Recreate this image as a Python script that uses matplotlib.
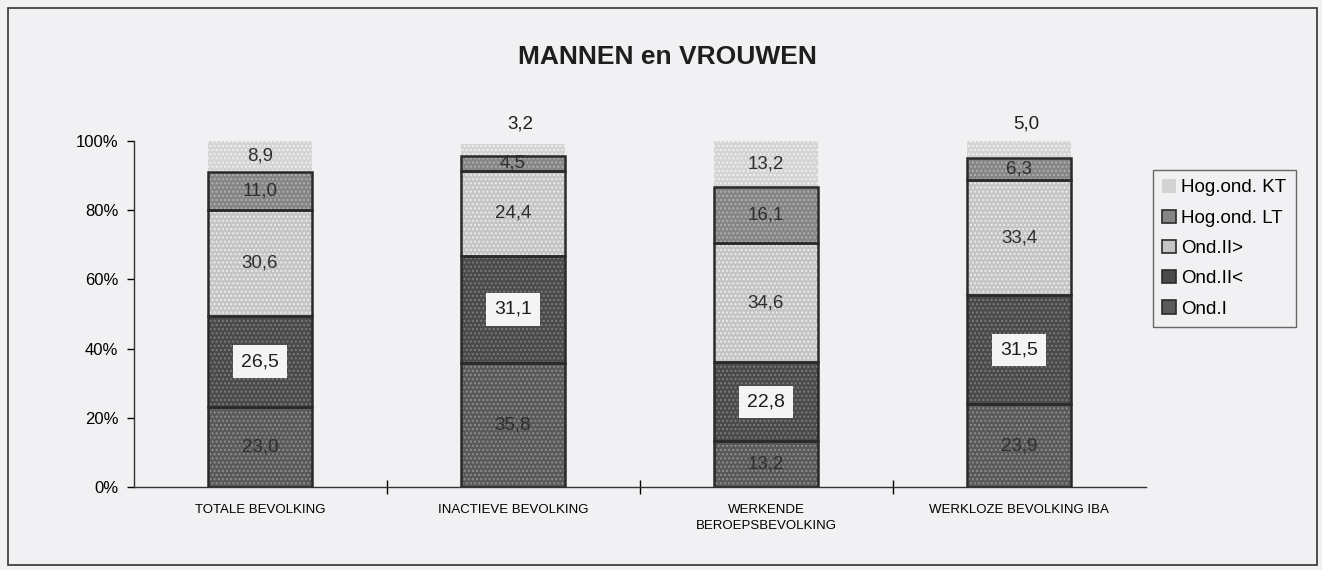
import matplotlib.pyplot as plt
import matplotlib.patches as mpatches
import numpy as np

plt.rcParams['font.family'] = ['Liberation Sans', 'DejaVu Sans']
plt.rcParams['hatch.linewidth'] = 1.0

# data
categories = ["TOTALE BEVOLKING", "INACTIEVE BEVOLKING",
              "WERKENDE\nBEROEPSBEVOLKING", "WERKLOZE BEVOLKING IBA"]
series = ["Ond.I", "Ond.II<", "Ond.II>", "Hog.ond. LT", "Hog.ond. KT"]
ond_1 = [23.0, 35.8, 13.2, 23.9]
ond_2_low = [26.5, 31.1, 22.8, 31.5]
ond_2_high = [30.6, 24.4, 34.6, 33.4]
hog_lt = [11.0, 4.5, 16.1, 6.3]
hog_kt = [8.9, 3.2, 13.2, 5.0]
values = [ond_1, ond_2_low, ond_2_high, hog_lt, hog_kt]

colors = ["#595959", "#4a4a4a", "#c4c4c4", "#858585", "#d3d3d3"]
dot_colors = ["#8e8e8e", "#7c7c7c", "#ececec", "#b0b0b0", "#f0f0f0"]
bg = "#f1f1f3"
edge = "#2a2a2a"

fig = plt.figure(figsize=(13.22, 5.70), dpi=100, facecolor=bg)
fig.patches.append(mpatches.Rectangle((8 / 1322, 5 / 570), 1309 / 1322, 557 / 570,
                                      transform=fig.transFigure, fill=False,
                                      edgecolor="#333333", lw=1.2))
ax = fig.add_axes([133.5 / 1322, 1 - 487 / 570, 1012 / 1322, 346 / 570])
ax.set_facecolor(bg)

x = np.arange(len(categories))
w = 0.415
bottom = np.zeros(len(categories))
handles = []
for i, (name, vals) in enumerate(zip(series, values)):
    is_top = i == len(series) - 1
    # fill with dotted texture
    ax.bar(x, vals, w, bottom=bottom, color=colors[i], edgecolor=dot_colors[i],
           hatch="....", lw=0, zorder=2)
    if not is_top:
        ax.bar(x, vals, w, bottom=bottom, color="none", edgecolor=edge,
               lw=1.8, zorder=3)
    handles.append(mpatches.Patch(facecolor=colors[i],
                                  edgecolor="none" if is_top else edge,
                                  lw=0 if is_top else 1.2, label=name))
    for j, v in enumerate(vals):
        yc = bottom[j] + v / 2
        txt = f"{v:.1f}".replace(".", ",")
        if i == 1:
            ax.text(x[j], yc, txt, ha="center", va="center", fontsize=14,
                    color="#1e1e1e", zorder=5,
                    bbox=dict(boxstyle="square,pad=0.4", fc="#f4f4f4", ec="none"))
        elif is_top and v < 6:
            ax.text(x[j] + 0.03, 102.5, txt, ha="center", va="bottom", fontsize=13.5,
                    color="#1e1e1e", zorder=5, clip_on=False)
        else:
            ax.text(x[j], yc, txt, ha="center", va="center", fontsize=13.5,
                    color="#2e2e2e", zorder=5)
    bottom += np.array(vals)

ax.set_xlim(-0.5, 3.5)
ax.set_ylim(0, 100)
ax.set_yticks(np.arange(0, 101, 20))
ax.set_yticklabels([f"{t}%" for t in range(0, 101, 20)], fontsize=12)
ax.set_xticks(x)
ax.set_xticklabels(categories, fontsize=9.5, va="top", linespacing=1.5)
ax.tick_params(axis="x", length=0, pad=12)
ax.set_xticks([0.5, 1.5, 2.5], minor=True)
ax.tick_params(axis="x", which="minor", direction="inout", length=10, width=1)
ax.tick_params(axis="y", direction="out", length=5, width=1, pad=6)
for s in ["top", "right"]:
    ax.spines[s].set_visible(False)
for s in ["left", "bottom"]:
    ax.spines[s].set_color("#333333")
    ax.spines[s].set_linewidth(1)

fig.text(667 / 1322, 1 - 57 / 570, "MANNEN en VROUWEN", ha="center", va="center",
         fontsize=19, fontweight="bold", color="#1e1e1e")

leg = fig.legend(handles[::-1], series[::-1], loc="upper left",
                 bbox_to_anchor=(1153 / 1322, 1 - 170 / 570), fontsize=13.5,
                 frameon=True, fancybox=False, edgecolor="#444444", facecolor=bg,
                 handlelength=0.7, handleheight=0.7, handletextpad=0.3,
                 labelspacing=0.7, borderpad=0.5, borderaxespad=0)
leg.get_frame().set_linewidth(1)

fig.savefig("out.png", dpi=100, facecolor=bg)
